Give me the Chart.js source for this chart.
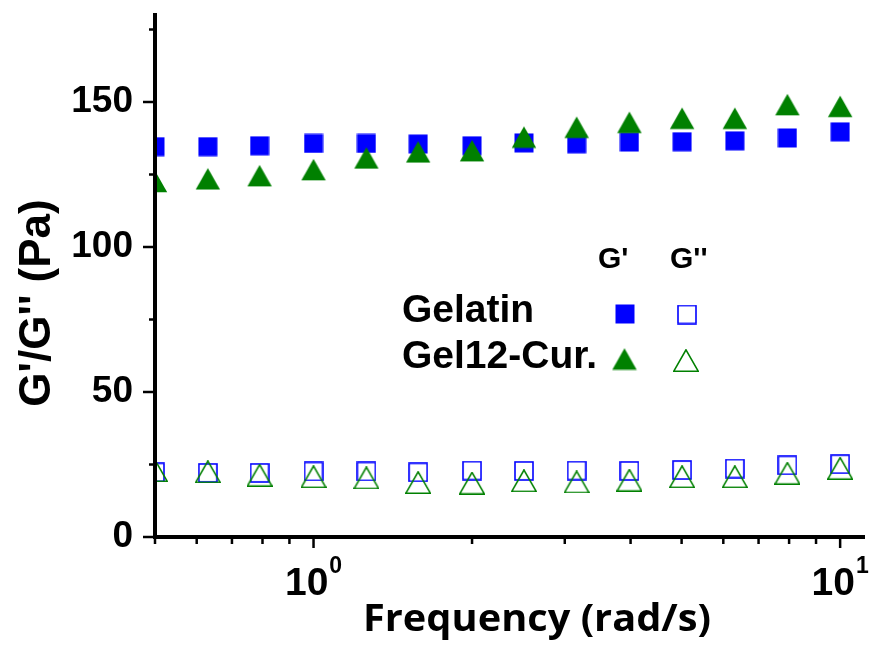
<!DOCTYPE html>
<html>
<head>
<meta charset="utf-8">
<script src="https://cdn.jsdelivr.net/npm/chart.js@4.4.1/dist/chart.umd.min.js"></script>
<style>
  body { margin: 0; background: #fff; }
  #wrap { width: 876px; height: 647px; position: relative; }
</style>
</head>
<body>
<div id="wrap"><canvas id="rheoChart"></canvas></div>
<script>
// frequency sweep, values
const freq = [0.5, 0.63, 0.79, 1, 1.26, 1.58, 2, 2.51, 3.16, 3.98, 5.01, 6.31, 7.94, 10];
const gelatinStorage = [134.6, 134.6, 134.9, 135.7, 135.7, 135.5, 134.9, 135.9, 135.6, 136.2, 136.3, 136.6, 137.6, 139.7];
const gelatinLoss = [22.3, 22.1, 22.1, 22.6, 22.6, 22.3, 22.9, 22.8, 22.9, 22.8, 23.1, 23.6, 24.7, 25.1];
const curStorage = [122.6, 123.5, 124.6, 126.7, 130.7, 132.8, 133.2, 137.9, 141.3, 143.0, 144.4, 144.4, 149.1, 148.5];
const curLoss = [22.9, 22.5, 21.3, 20.8, 20.4, 18.8, 18.6, 19.4, 19.0, 19.6, 20.8, 20.8, 22.0, 23.7];

const xTicks = [0.5, 0.6, 0.7, 0.8, 0.9, 1, 2, 3, 4, 5, 6, 7, 8, 9, 10];
const xMajor = [1, 10];
const yTicks = [0, 25, 50, 75, 100, 125, 150, 175];
const yLabeled = [0, 50, 100, 150];

const seriesNames = ['Gelatin', 'Gel12-Cur.'];
const headerNames = ["G'", "G''"];
const xTitle = 'Frequency (rad/s)';
const yTitle = "G'/G'' (Pa)";

const BLUE = '#0000ff';
const GREEN = '#008000';
const ARIAL = "'Liberation Sans', Arial, sans-serif";

// marker images, centred on their bounding box like the original symbols
function makeMarker(shape, filled, color) {
  const c = document.createElement('canvas');
  const g = c.getContext('2d');
  if (shape === 'square') {
    c.width = 20; c.height = 20;
    if (filled) { g.fillStyle = color; g.fillRect(0.5, 0.5, 19, 19); }
    else { g.strokeStyle = color; g.lineWidth = 1.6; g.strokeRect(1, 1, 18, 18); }
  } else {
    c.width = 26; c.height = 23;
    g.beginPath();
    g.moveTo(13, 0.8); g.lineTo(25.2, 22.2); g.lineTo(0.8, 22.2); g.closePath();
    if (filled) { g.fillStyle = color; g.fill(); }
    else { g.strokeStyle = color; g.lineWidth = 1.6; g.lineJoin = 'miter'; g.stroke(); }
  }
  return c;
}
const mFilledSq = makeMarker('square', true, BLUE);
const mOpenSq = makeMarker('square', false, BLUE);
const mFilledTri = makeMarker('triangle', true, GREEN);
const mOpenTri = makeMarker('triangle', false, GREEN);

function pts(ys) { return freq.map((f, i) => ({ x: f, y: ys[i] })); }

const decor = {
  id: 'decor',
  afterDraw(chart) {
    const ctx = chart.ctx;
    const area = chart.chartArea;
    const xs = chart.scales.x, ys = chart.scales.y;
    ctx.save();
    ctx.strokeStyle = '#000';
    ctx.fillStyle = '#000';
    ctx.lineWidth = 2.5;
    // tick marks, outside
    xTicks.forEach(v => {
      const px = xs.getPixelForValue(v);
      const len = xMajor.includes(v) ? 11 : 7;
      ctx.beginPath(); ctx.moveTo(px, area.bottom); ctx.lineTo(px, area.bottom + len); ctx.stroke();
    });
    yTicks.forEach(v => {
      const py = ys.getPixelForValue(v);
      const len = yLabeled.includes(v) ? 12 : 6;
      ctx.beginPath(); ctx.moveTo(area.left - len, py); ctx.lineTo(area.left, py); ctx.stroke();
    });
    // 10^n labels
    xMajor.forEach(v => {
      const px = xs.getPixelForValue(v);
      const exp = String(Math.round(Math.log10(v)));
      ctx.font = 'bold 39px ' + ARIAL;
      const wMain = ctx.measureText('10').width;
      ctx.font = 'bold 23px ' + ARIAL;
      const wExp = ctx.measureText(exp).width;
      const x0 = px - (wMain + 1 + wExp) / 2;
      ctx.textAlign = 'left'; ctx.textBaseline = 'alphabetic';
      ctx.font = 'bold 39px ' + ARIAL;
      ctx.fillText('10', x0, area.bottom + 58);
      ctx.font = 'bold 23px ' + ARIAL;
      ctx.fillText(exp, x0 + wMain + 1, area.bottom + 36);
    });
    // axis titles
    ctx.font = "bold 37px 'Open Sans', sans-serif";
    const tw = ctx.measureText(xTitle).width;
    const sx = 348 / tw;
    ctx.save();
    ctx.translate(537, 631);
    ctx.scale(sx, 1);
    ctx.textAlign = 'center';
    ctx.fillText(xTitle, 0, 0);
    ctx.restore();

    ctx.save();
    ctx.font = 'bold 44px ' + ARIAL;
    ctx.translate(50, 303);
    ctx.rotate(-Math.PI / 2);
    ctx.textAlign = 'center';
    ctx.fillText(yTitle, 0, 0);
    ctx.restore();

    // legend block: header row + one row per sample
    ctx.textAlign = 'left';
    ctx.font = 'bold 30px ' + ARIAL;
    ctx.fillText(headerNames[0], 598, 268);
    ctx.fillText(headerNames[1], 670, 268);
    ctx.font = 'bold 39px ' + ARIAL;
    ctx.fillText(seriesNames[0], 402, 322);
    ctx.fillText(seriesNames[1], 402, 368);
    const put = (img, cx, cy) => ctx.drawImage(img, cx - img.width / 2, cy - img.height / 2);
    put(mFilledSq, 625, 314);
    put(mOpenSq, 687, 314.5);
    put(mFilledTri, 624.5, 359);
    put(mOpenTri, 686, 360.5);
    ctx.restore();
  }
};

const ctx = document.getElementById('rheoChart').getContext('2d');
const rheoChart = new Chart(ctx, {
  type: 'scatter',
  data: {
    datasets: [
      { label: "Gel12-Cur. G'", data: pts(curStorage), pointStyle: mFilledTri, order: 0 },
      { label: "Gel12-Cur. G''", data: pts(curLoss), pointStyle: mOpenTri, order: 1 },
      { label: "Gelatin G'", data: pts(gelatinStorage), pointStyle: mFilledSq, order: 2 },
      { label: "Gelatin G''", data: pts(gelatinLoss), pointStyle: mOpenSq, order: 3 }
    ].map(d => Object.assign(d, { pointRadius: 11, pointHoverRadius: 11, showLine: false, clip: 0 }))
  },
  options: {
    responsive: true,
    maintainAspectRatio: false,
    animation: false,
    events: [],
    layout: { padding: { left: 0, right: 11, top: 15, bottom: 0 } },
    plugins: { legend: { display: false }, tooltip: { enabled: false } },
    scales: {
      x: {
        type: 'logarithmic',
        min: 0.5,
        max: 11.1,
        grid: { display: false, drawTicks: false },
        border: { display: true, color: '#000', width: 4, z: 1 },
        ticks: { display: false, autoSkip: false },
        afterBuildTicks: s => { s.ticks = xTicks.map(v => ({ value: v, major: xMajor.includes(v) })); },
        afterFit: s => { s.height = 110; s.paddingLeft = 0; s.paddingRight = 0; }
      },
      y: {
        min: 0,
        max: 180,
        grid: { display: false, drawTicks: false },
        border: { display: true, color: '#000', width: 4, z: 1 },
        ticks: {
          autoSkip: false,
          padding: 22,
          color: '#000',
          font: { family: ARIAL, size: 37, weight: 'bold' },
          callback: v => (yLabeled.includes(v) ? String(v) : '')
        },
        afterBuildTicks: s => { s.ticks = yTicks.map(v => ({ value: v })); },
        afterFit: s => { s.width = 155; s.paddingTop = 0; s.paddingBottom = 0; }
      }
    }
  },
  plugins: [decor]
});
</script>
</body>
</html>
